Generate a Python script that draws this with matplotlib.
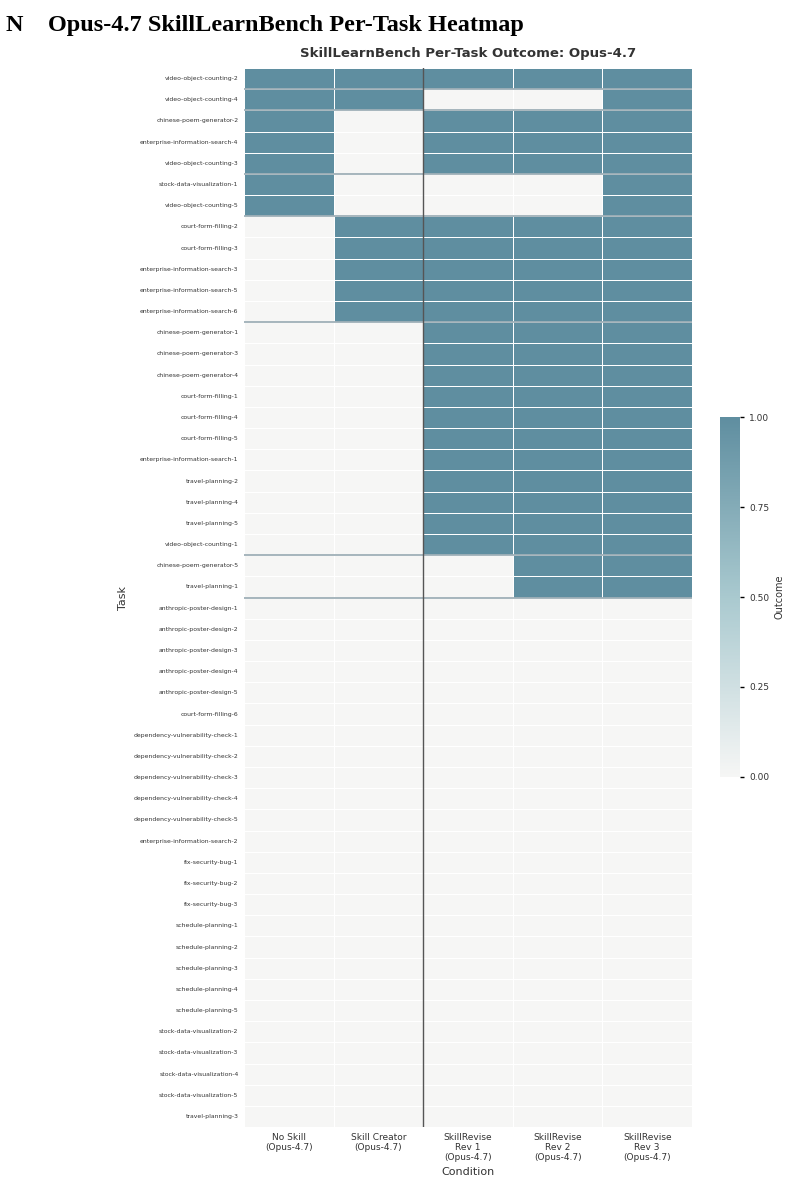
import matplotlib
matplotlib.use('Agg')
import matplotlib.pyplot as plt
import numpy as np
import seaborn as sns
from matplotlib.colors import LinearSegmentedColormap

conditions = ['No Skill\n(Opus-4.7)', 'Skill Creator\n(Opus-4.7)',
              'SkillRevise\nRev 1\n(Opus-4.7)', 'SkillRevise\nRev 2\n(Opus-4.7)',
              'SkillRevise\nRev 3\n(Opus-4.7)']

tasks = [
    'video-object-counting-2', 'video-object-counting-4', 'chinese-poem-generator-2',
    'enterprise-information-search-4', 'video-object-counting-3', 'stock-data-visualization-1',
    'video-object-counting-5', 'court-form-filling-2', 'court-form-filling-3',
    'enterprise-information-search-3', 'enterprise-information-search-5',
    'enterprise-information-search-6', 'chinese-poem-generator-1', 'chinese-poem-generator-3',
    'chinese-poem-generator-4', 'court-form-filling-1', 'court-form-filling-4',
    'court-form-filling-5', 'enterprise-information-search-1', 'travel-planning-2',
    'travel-planning-4', 'travel-planning-5', 'video-object-counting-1',
    'chinese-poem-generator-5', 'travel-planning-1', 'anthropic-poster-design-1',
    'anthropic-poster-design-2', 'anthropic-poster-design-3', 'anthropic-poster-design-4',
    'anthropic-poster-design-5', 'court-form-filling-6', 'dependency-vulnerability-check-1',
    'dependency-vulnerability-check-2', 'dependency-vulnerability-check-3',
    'dependency-vulnerability-check-4', 'dependency-vulnerability-check-5',
    'enterprise-information-search-2', 'fix-security-bug-1', 'fix-security-bug-2',
    'fix-security-bug-3', 'schedule-planning-1', 'schedule-planning-2', 'schedule-planning-3',
    'schedule-planning-4', 'schedule-planning-5', 'stock-data-visualization-2',
    'stock-data-visualization-3', 'stock-data-visualization-4', 'stock-data-visualization-5',
    'travel-planning-3',
]

# outcome per task: No Skill, Skill Creator, Rev 1, Rev 2, Rev 3
no_skill      = [1, 1, 1, 1, 1, 1, 1] + [0] * 43
skill_creator = [1, 1, 0, 0, 0, 0, 0] + [1] * 5 + [0] * 38
rev1          = [1, 0, 1, 1, 1, 0, 0] + [1] * 5 + [1] * 11 + [0] * 27
rev2          = [1, 0, 1, 1, 1, 0, 0] + [1] * 5 + [1] * 11 + [1, 1] + [0] * 25
rev3          = [1, 1, 1, 1, 1, 1, 1] + [1] * 5 + [1] * 11 + [1, 1] + [0] * 25

data = np.array([no_skill, skill_creator, rev1, rev2, rev3]).T

cmap = LinearSegmentedColormap.from_list('outcome', ['#f6f6f5', '#a9c9cf', '#5f8ea0'])

fig = plt.figure(figsize=(7.9, 11.83), dpi=100)
ax = fig.add_axes([0.3089, 0.0473, 0.5671, 0.8952])
cax = fig.add_axes([0.9114, 0.3432, 0.0253, 0.3043])

sns.heatmap(data, ax=ax, cbar_ax=cax, cmap=cmap, vmin=0, vmax=1,
            linewidths=0.5, linecolor='white',
            xticklabels=conditions, yticklabels=tasks,
            cbar_kws={'label': 'Outcome', 'ticks': [0, 0.25, 0.5, 0.75, 1.0]})

# separators where the outcome pattern changes
for i in range(1, len(tasks)):
    if not np.array_equal(data[i], data[i - 1]):
        ax.axhline(i, color='#9fb0b8', lw=1.3)
ax.axvline(2, color='#555555', lw=1.0)

ax.tick_params(axis='both', length=0)
ax.tick_params(axis='y', labelsize=4.4, labelcolor='#333333', pad=4)
ax.tick_params(axis='x', labelsize=6.5, labelcolor='#333333', pad=4)
plt.setp(ax.get_xticklabels(), rotation=0, ha='center')
plt.setp(ax.get_yticklabels(), rotation=0)
ax.set_xlabel('Condition', fontsize=8, color='#333333', labelpad=3)
ax.set_ylabel('Task', fontsize=8, color='#333333', labelpad=4)
ax.set_title('SkillLearnBench Per-Task Outcome: Opus-4.7', fontsize=9.5,
             fontweight='bold', color='#333333', pad=8)

cax.tick_params(labelsize=6.5, labelcolor='#333333', length=3, width=1)
cax.yaxis.label.set_size(7)
cax.yaxis.label.set_color('#333333')
cax.set_yticklabels(['0.00', '0.25', '0.50', '0.75', '1.00'])
for s in cax.spines.values():
    s.set_visible(False)

fig.text(0.0076, 0.9738, 'N', fontsize=17.5, fontweight='bold',
         family='Liberation Serif', va='baseline')
fig.text(0.0608, 0.9738, 'Opus-4.7 SkillLearnBench Per-Task Heatmap', fontsize=17.5,
         fontweight='bold', family='Liberation Serif', va='baseline')

fig.savefig('out.png', dpi=100)
